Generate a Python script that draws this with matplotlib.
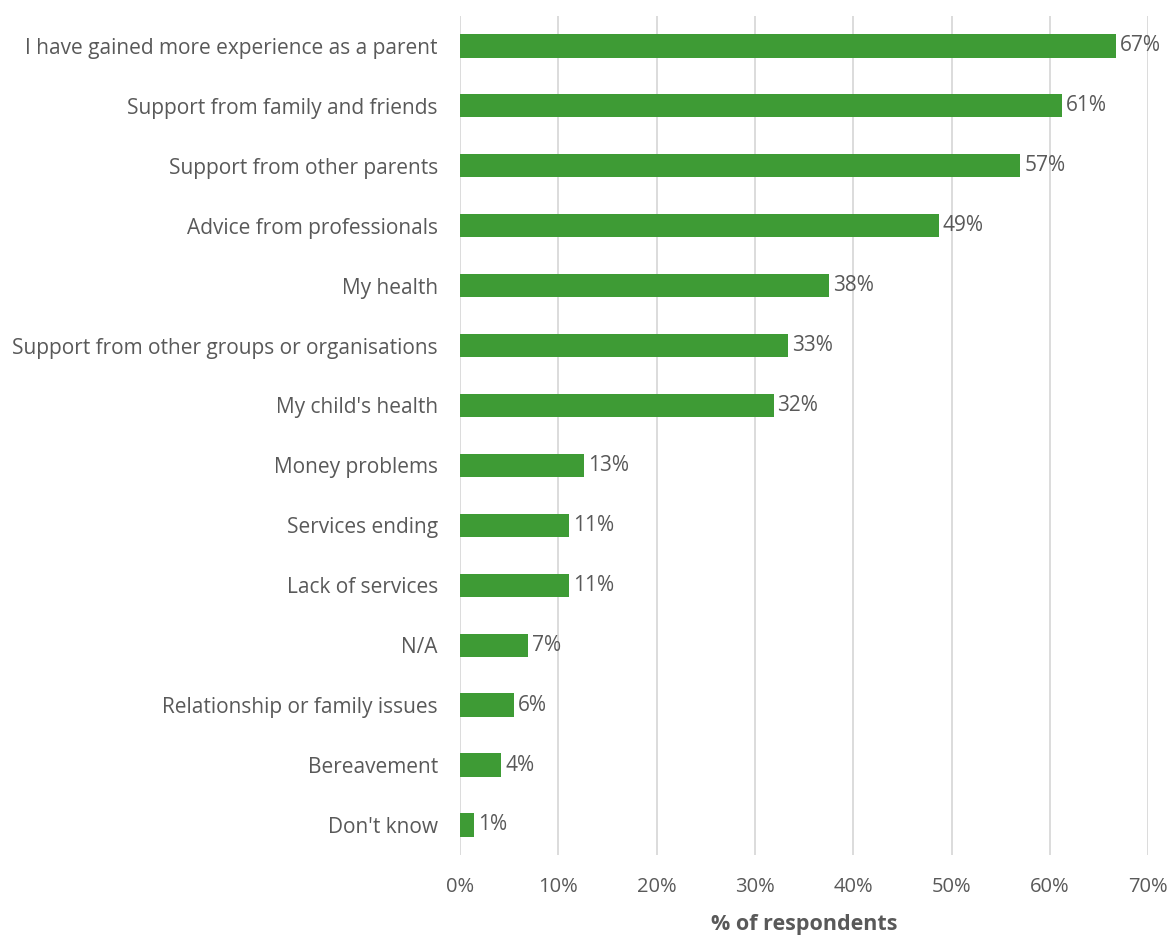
import matplotlib.pyplot as plt

categories = [
    "I have gained more experience as a parent",
    "Support from family and friends",
    "Support from other parents",
    "Advice from professionals",
    "My health",
    "Support from other groups or organisations",
    "My child's health",
    "Money problems",
    "Services ending",
    "Lack of services",
    "N/A",
    "Relationship or family issues",
    "Bereavement",
    "Don't know",
]
percent = [66.7, 61.2, 57.0, 48.7, 37.5, 33.4, 31.9, 12.6, 11.1, 11.1, 6.9, 5.5, 4.2, 1.4]
x_ticks = [0, 10, 20, 30, 40, 50, 60, 70]

green = '#3e9b35'
text_grey = '#595959'

plt.rcParams['font.family'] = ['Open Sans', 'DejaVu Sans']

fig = plt.figure(figsize=(11.74, 9.35), dpi=100)
ax = fig.add_axes([0.3918, 0.0856, 0.5862, 0.8974])

y = list(range(len(categories)))
ax.barh(y, percent, height=0.39, color=green, zorder=3)
for yi, v in zip(y, percent):
    ax.text(v + 0.4, yi, f'{v:.0f}%', va='center', ha='left', fontsize=15, color=text_grey)

ax.set_ylim(len(categories) - 0.5, -0.5)
ax.set_xlim(0, 70)
ax.set_yticks(y)
ax.set_yticklabels(categories, fontsize=15, color=text_grey)
ax.set_xticks(x_ticks)
ax.set_xticklabels([f'{t}%' for t in x_ticks], fontsize=14.5, color=text_grey)
ax.tick_params(length=0, pad=16, axis='y')
ax.tick_params(length=0, pad=16, axis='x')
ax.grid(axis='x', color='#d9d9d9', linewidth=1.3, zorder=0)
for s in ax.spines.values():
    s.set_visible(False)
ax.set_xlabel('% of respondents', fontsize=15.5, fontweight='bold', color=text_grey, labelpad=12)

fig.savefig('out.png', dpi=100)
